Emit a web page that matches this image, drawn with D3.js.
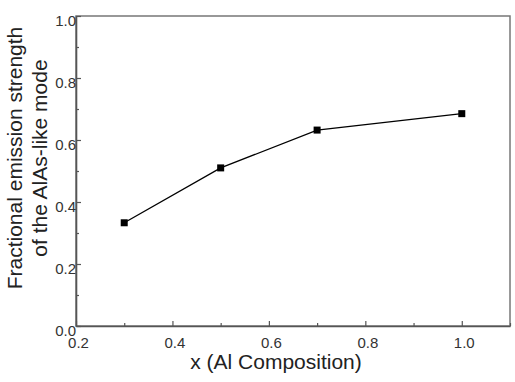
<!DOCTYPE html>
<html>
<head>
<meta charset="utf-8">
<script src="https://cdn.jsdelivr.net/npm/d3@7"></script>
<style>
  body { margin: 0; background: #fff; }
  text { font-family: "Liberation Sans", Arial, Helvetica, sans-serif; }
</style>
</head>
<body>
<div id="chart"></div>
<script>
// data
const alComposition = [0.3, 0.5, 0.7, 1.0];
const emissionStrength = [0.333, 0.51, 0.632, 0.685];
const xTicks = [0.2, 0.4, 0.6, 0.8, 1.0];
const xMinorTicks = [0.3, 0.5, 0.7, 0.9, 1.1];
const yTicks = [0.0, 0.2, 0.4, 0.6, 0.8, 1.0];
const yMinorTicks = [0.1, 0.3, 0.5, 0.7, 0.9];

const width = 515, height = 382;
const margin = { top: 16, right: 5, bottom: 56, left: 76 };

const svg = d3.select('#chart')
    .append('svg')
    .attr('width', width)
    .attr('height', height);

const x = d3.scaleLinear()
    .domain([0.2, 1.1])
    .range([margin.left, width - margin.right]);

const y = d3.scaleLinear()
    .domain([0, 1])
    .range([height - margin.bottom, margin.top]);

const axisColor = '#555';

// frame (top and right sides)
svg.append('rect')
    .attr('x', x(0.2))
    .attr('y', y(1))
    .attr('width', x(1.1) - x(0.2))
    .attr('height', y(0) - y(1))
    .attr('fill', 'none')
    .attr('stroke', '#777')
    .attr('stroke-width', 1.5);

// X axis
const gx = svg.append('g')
    .attr('transform', 'translate(0,' + y(0) + ')')
    .call(d3.axisBottom(x).tickValues(xTicks).tickFormat(d3.format('.1f'))
        .tickSizeInner(-5).tickSizeOuter(0).tickPadding(11));
gx.select('.domain').attr('stroke', axisColor).attr('stroke-width', 1.6);
gx.selectAll('.tick line').attr('stroke', axisColor).attr('stroke-width', 1.2);
gx.selectAll('.tick text')
    .attr('font-size', 15)
    .attr('fill', '#333')
    .attr('dx', 2);

const gxm = svg.append('g')
    .attr('transform', 'translate(0,' + y(0) + ')')
    .call(d3.axisBottom(x).tickValues(xMinorTicks).tickFormat('')
        .tickSizeInner(-3).tickSizeOuter(0));
gxm.select('.domain').remove();
gxm.selectAll('.tick line').attr('stroke', axisColor).attr('stroke-width', 1.2);

// Y axis
const gy = svg.append('g')
    .attr('transform', 'translate(' + x(0.2) + ',0)')
    .call(d3.axisLeft(y).tickValues(yTicks).tickFormat(d3.format('.1f'))
        .tickSizeInner(-5).tickSizeOuter(0).tickPadding(0));
gy.select('.domain').attr('stroke', axisColor).attr('stroke-width', 1.6);
gy.selectAll('.tick line').attr('stroke', axisColor).attr('stroke-width', 1.2);
gy.selectAll('.tick text')
    .attr('font-size', 15)
    .attr('fill', '#333')
    .attr('dy', 9);

const gym = svg.append('g')
    .attr('transform', 'translate(' + x(0.2) + ',0)')
    .call(d3.axisLeft(y).tickValues(yMinorTicks).tickFormat('')
        .tickSizeInner(-3).tickSizeOuter(0));
gym.select('.domain').remove();
gym.selectAll('.tick line').attr('stroke', axisColor).attr('stroke-width', 1.2);

// axis titles
svg.append('text')
    .attr('x', 276)
    .attr('y', 369)
    .attr('text-anchor', 'middle')
    .attr('font-size', 21)
    .attr('fill', '#222')
    .text('x (Al Composition)');

const yTitle = svg.append('text')
    .attr('transform', 'translate(0,158) rotate(-90)')
    .attr('text-anchor', 'middle')
    .attr('font-size', 21)
    .attr('fill', '#222');
yTitle.append('tspan').attr('x', 0).attr('y', 22).text('Fractional emission strength');
yTitle.append('tspan').attr('x', 0).attr('y', 47).text('of the AlAs-like mode');

// data line and markers
const points = alComposition.map((d, i) => [d, emissionStrength[i]]);

svg.append('path')
    .datum(points)
    .attr('fill', 'none')
    .attr('stroke', '#000')
    .attr('stroke-width', 1.3)
    .attr('d', d3.line().x(d => x(d[0])).y(d => y(d[1])));

const s = 7;
svg.append('g')
    .selectAll('rect')
    .data(points)
    .enter()
    .append('rect')
    .attr('x', d => x(d[0]) - s / 2)
    .attr('y', d => y(d[1]) - s / 2)
    .attr('width', s)
    .attr('height', s)
    .attr('fill', '#000');
</script>
</body>
</html>
